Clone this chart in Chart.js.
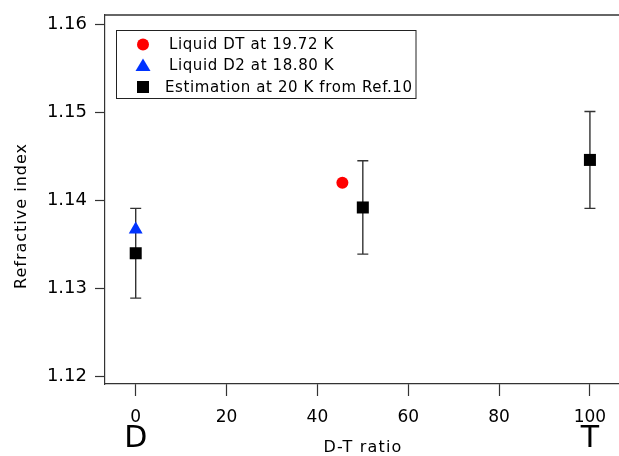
<!DOCTYPE html>
<html>
<head>
<meta charset="utf-8">
<script src="https://cdn.jsdelivr.net/npm/chart.js@4/dist/chart.umd.min.js"></script>
<style>
  body { margin: 0; background: #fff; }
  #wrap { width: 619px; height: 456px; }
</style>
</head>
<body>
<div id="wrap"><canvas id="c" width="619" height="456"></canvas></div>
<script>
// values
const estRatio = [0, 50, 100];
const estIndex = [1.1340, 1.1392, 1.1446];
const estError = [0.0051, 0.0053, 0.0055];
const dtRatio = [45.5];
const dtIndex = [1.1420];
const d2Ratio = [0];
const d2Index = [1.1367];
const xTicks = [0, 20, 40, 60, 80, 100];
const yTicks = [1.12, 1.13, 1.14, 1.15, 1.16];
const endLabels = ["D", "T"];
const endRatios = [0, 100];
const legendLabels = ["Liquid DT at 19.72 K", "Liquid D2 at 18.80 K", "Estimation at 20 K from Ref.10"];

const FONT = "'DejaVu Sans', sans-serif";
const AXIS_COLOR = "#333";

function toPoints(xs, ys){
  let pts = [];
  for(let i = 0; i < xs.length; i++){
    pts.push({x: xs[i], y: ys[i]});
  }
  return pts;
}

// error bars, frame top line, D / T labels, axis titles, legend box
const extras = {
  id: "extras",
  beforeDatasetsDraw(chart){
    const ctx = chart.ctx;
    const xs = chart.scales.x, ys = chart.scales.y;
    ctx.save();
    ctx.strokeStyle = "#333";
    ctx.lineWidth = 1.4;
    for(let i = 0; i < estRatio.length; i++){
      let px = xs.getPixelForValue(estRatio[i]);
      let top = ys.getPixelForValue(estIndex[i] + estError[i]);
      let bot = ys.getPixelForValue(estIndex[i] - estError[i]);
      ctx.beginPath();
      ctx.moveTo(px, top); ctx.lineTo(px, bot);
      ctx.moveTo(px - 5.5, top); ctx.lineTo(px + 5.5, top);
      ctx.moveTo(px - 5.5, bot); ctx.lineTo(px + 5.5, bot);
      ctx.stroke();
    }
    ctx.restore();
  },
  afterDraw(chart){
    const ctx = chart.ctx;
    const area = chart.chartArea;
    const xs = chart.scales.x;
    ctx.save();
    // no frame on the right side
    ctx.fillStyle = "#fff";
    ctx.fillRect(area.right - 4, area.top + 2, 4, area.bottom - area.top - 4);

    // top frame line
    ctx.strokeStyle = AXIS_COLOR;
    ctx.lineWidth = 1.6;
    ctx.beginPath();
    ctx.moveTo(area.left, area.top);
    ctx.lineTo(area.right, area.top);
    ctx.stroke();

    // D and T under the axis
    ctx.fillStyle = "#000";
    ctx.font = "30px " + FONT;
    ctx.textAlign = "center";
    ctx.textBaseline = "middle";
    for(let i = 0; i < endLabels.length; i++){
      ctx.fillText(endLabels[i], xs.getPixelForValue(endRatios[i]), 439);
    }

    // axis titles
    ctx.font = "16px " + FONT;
    ctx.letterSpacing = "1.2px";
    ctx.fillText("D-T ratio", 363, 448);
    ctx.save();
    ctx.translate(22, 216);
    ctx.rotate(-Math.PI / 2);
    ctx.letterSpacing = "1px";
    ctx.fillText("Refractive index", 0, 0);
    ctx.restore();

    // legend
    ctx.strokeStyle = "#222";
    ctx.lineWidth = 1;
    ctx.strokeRect(116.5, 30.5, 299.5, 68);
    const rows = [44.5, 65.5, 87];
    ctx.font = "15px " + FONT;
    ctx.letterSpacing = "0.6px";
    ctx.textAlign = "left";
    for(let i = 0; i < legendLabels.length; i++){
      let mx = 143, my = rows[i];
      if(i == 0){
        ctx.fillStyle = "#ff0000";
        ctx.beginPath(); ctx.arc(mx, my, 6, 0, Math.PI * 2); ctx.fill();
      } else if(i == 1){
        ctx.fillStyle = "#0033ff";
        ctx.beginPath();
        ctx.moveTo(mx, my - 7); ctx.lineTo(mx + 7.5, my + 5.5); ctx.lineTo(mx - 7.5, my + 5.5);
        ctx.closePath(); ctx.fill();
      } else {
        ctx.fillStyle = "#000";
        ctx.fillRect(mx - 6, my - 6, 12, 12);
      }
      ctx.fillStyle = "#000";
      ctx.fillText(legendLabels[i], i == 2 ? 165 : 169, my + 1);
    }
    ctx.restore();
  }
};

let ctx = document.getElementById("c").getContext("2d");
let chart = new Chart(ctx, {
  type: "scatter",
  data: {
    datasets: [{
      label: legendLabels[2],
      data: toPoints(estRatio, estIndex),
      pointStyle: "rect",
      pointRadius: 8.5,
      pointHoverRadius: 8.5,
      backgroundColor: "#000",
      borderColor: "#000",
      borderWidth: 0
    },{
      label: legendLabels[1],
      data: toPoints(d2Ratio, d2Index),
      pointStyle: "triangle",
      pointRadius: 8,
      pointHoverRadius: 8,
      backgroundColor: "#0033ff",
      borderColor: "#0033ff",
      borderWidth: 0
    },{
      label: legendLabels[0],
      data: toPoints(dtRatio, dtIndex),
      pointStyle: "circle",
      pointRadius: 6,
      pointHoverRadius: 6,
      backgroundColor: "#ff0000",
      borderColor: "#ff0000",
      borderWidth: 0
    }]
  },
  options: {
    responsive: false,
    animation: false,
    devicePixelRatio: 1,
    layout: { autoPadding: false, padding: { top: 15, right: 0, left: 0, bottom: 0 } },
    plugins: {
      legend: { display: false },
      tooltip: { enabled: false }
    },
    scales: {
      x: {
        type: "linear",
        min: -6.76,
        max: 106.4,
        afterBuildTicks: (s) => { s.ticks = xTicks.map(v => ({value: v})); },
        afterFit: (s) => { s.height = 72; s.paddingLeft = 0; s.paddingRight = 0; },
        grid: { drawOnChartArea: false, drawTicks: true, tickLength: 12, color: AXIS_COLOR, tickWidth: 1.2 },
        border: { display: true, color: AXIS_COLOR, width: 1.2 },
        ticks: { color: "#000", font: { family: FONT, size: 17 }, padding: 11, maxRotation: 0 }
      },
      y: {
        type: "linear",
        min: 1.11915,
        max: 1.16106,
        afterBuildTicks: (s) => { s.ticks = yTicks.map(v => ({value: v})); },
        afterFit: (s) => { s.width = 105; s.paddingTop = 0; s.paddingBottom = 0; },
        grid: { drawOnChartArea: false, drawTicks: true, tickLength: 10, color: AXIS_COLOR, tickWidth: 1.2 },
        border: { display: true, color: AXIS_COLOR, width: 1.2 },
        ticks: { color: "#000", font: { family: FONT, size: 18 }, padding: 8, callback: (v) => v.toFixed(2) }
      }
    }
  },
  plugins: [extras]
});
</script>
</body>
</html>
